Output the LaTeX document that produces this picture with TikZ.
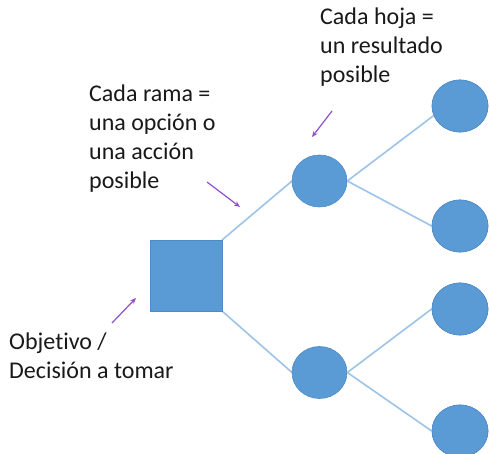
\documentclass[tikz,border=0pt]{standalone}
\usepackage{fontspec}
\setmainfont{Carlito}[Ligatures={NoCommon}]
\usetikzlibrary{shapes.geometric,arrows.meta}
\definecolor{nodefill}{HTML}{5B9BD5}
\definecolor{nodeedge}{HTML}{4F8BC7}
\definecolor{branch}{HTML}{9DC3E6}
\definecolor{pointer}{HTML}{9050CC}
\begin{document}
\begin{tikzpicture}[x=1pt,y=-1pt,
  decision/.style={draw=nodeedge,line width=0.6pt,fill=nodefill,rectangle,minimum width=72pt,minimum height=71pt,inner sep=0pt},
  chance/.style={draw=nodeedge,line width=0.6pt,fill=nodefill,ellipse,minimum width=55pt,minimum height=52pt,inner sep=0pt},
  leaf/.style={draw=nodeedge,line width=0.6pt,fill=nodefill,ellipse,minimum width=56pt,minimum height=52pt,inner sep=0pt},
  branchline/.style={draw=branch,line width=1.6pt},
  pointerarrow/.style={draw=pointer,line width=1.2pt,-{Stealth[length=6pt,width=5pt]}},
  label/.style={font=\fontsize{24}{29}\selectfont,align=left,inner sep=0pt,anchor=base west,text=black!90}]
\useasboundingbox (0,0) rectangle (490,454);
% branches from the decision node
\draw[branchline] (222,240) coordinate (sqne) -- (292,181) coordinate (m1w);
\draw[branchline] (222,311) coordinate (sqse) -- (292,372.5) coordinate (m2w);
% nodes
\node[decision] (sq) at (186,275.5) {};
\node[chance] (m1) at (319.5,181) {};
\node[chance] (m2) at (319.5,372.5) {};
\node[leaf] (l1) at (460,106) {};
\node[leaf] (l2) at (460,226) {};
\node[leaf] (l3) at (460,309) {};
\node[leaf] (l4) at (460,431) {};
\draw[branchline] (m1.east) -- (l1.200);
\draw[branchline] (m1.east) -- (l2.west);
\draw[branchline] (m2.east) -- (l3.west);
\draw[branchline] (m2.east) -- (l4.west);
% redraw leaves over connectors
\node[leaf] at (l1) {};
\node[leaf] at (l2) {};
\node[leaf] at (l3) {};
\node[leaf] at (l4) {};
% labels (anchored at the baseline of the last line)
\node[label] (t1) at (320,83) {Cada hoja =\\un resultado\\posible};
\node[label] (t2) at (89,189) {Cada rama =\\una opción o\\una acción\\posible};
\node[label] (t3) at (9,378) {Objetivo /\\Decisión a tomar};
% pointers
\coordinate (p1s) at (332,111); \coordinate (p1e) at (312,137);
\coordinate (p2s) at (207,182); \coordinate (p2e) at (240,207);
\coordinate (p3s) at (112,323); \coordinate (p3e) at (136,298);
\draw[pointerarrow] (p1s) -- (p1e);
\draw[pointerarrow] (p2s) -- (p2e);
\draw[pointerarrow] (p3s) -- (p3e);
\end{tikzpicture}
\end{document}
